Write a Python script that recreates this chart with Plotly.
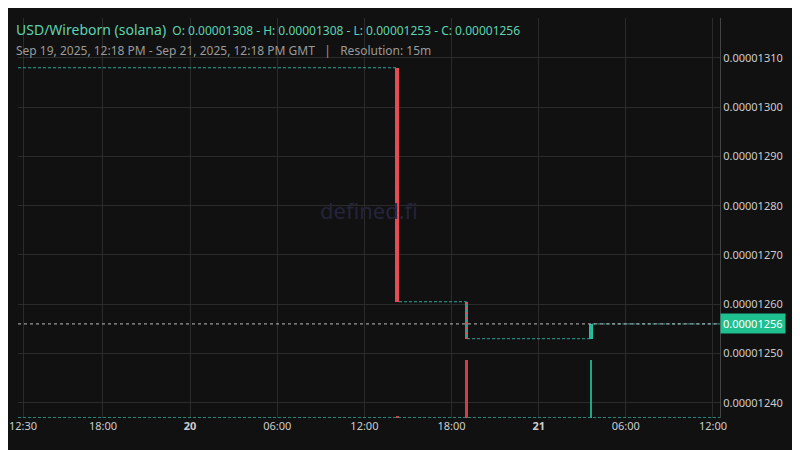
import plotly.graph_objects as go
import pandas as pd

# candles (time, open, close)
candle_t = ["2025-09-20 14:16", "2025-09-20 19:02", "2025-09-21 03:35"]
candle_o = [1.308e-5, 1.2605e-5, 1.253e-5]
candle_c = [1.2605e-5, 1.253e-5, 1.256e-5]
# flat price levels between candles (step start times, level)
flat_t = ["2025-09-19 12:09", "2025-09-20 14:16", "2025-09-20 19:02", "2025-09-21 03:35", "2025-09-21 12:29"]
flat_v = [1.308e-5, 1.2605e-5, 1.253e-5, 1.256e-5, 1.256e-5]
# volume
vol_t = ["2025-09-20 14:16", "2025-09-20 19:02", "2025-09-21 03:35"]
vol_v = [3, 100, 100]
last_price = 1.256e-5
y_ticks = [1.24e-5, 1.25e-5, 1.26e-5, 1.27e-5, 1.28e-5, 1.29e-5, 1.30e-5, 1.31e-5]
x_ticks = ["2025-09-19 12:30", "2025-09-19 18:00", "2025-09-20 00:00", "2025-09-20 06:00", "2025-09-20 12:00",
           "2025-09-20 18:00", "2025-09-21 00:00", "2025-09-21 06:00", "2025-09-21 12:00"]
x_text = ["12:30", "18:00", "<b>20</b>", "06:00", "12:00", "18:00", "<b>21</b>", "06:00", "12:00"]

UP, DN = "#22c39a", "#f0474f"
fig = go.Figure()
fig.add_trace(go.Scatter(x=flat_t, y=flat_v, mode="lines", line=dict(shape="hv", color="#26a69a", width=1, dash="3px,2px"),
                         hoverinfo="skip"))
cols = [UP if c >= o else DN for o, c in zip(candle_o, candle_c)]
fig.add_trace(go.Bar(x=pd.to_datetime(candle_t), base=candle_o, y=[c - o for o, c in zip(candle_o, candle_c)],
                     width=16 * 60 * 1000, marker=dict(color=cols, line=dict(width=0))))
fig.add_trace(go.Bar(x=pd.to_datetime(vol_t), y=vol_v, yaxis="y2", width=10 * 60 * 1000,
                     marker=dict(color=cols, opacity=0.85, line=dict(width=0))))
fig.add_trace(go.Scatter(x=[flat_t[0], flat_t[-1]], y=[0.5, 0.5], yaxis="y2", mode="lines",
                         line=dict(color="#26a69a", width=1, dash="3px,2px")))

fig.add_shape(type="line", xref="paper", x0=0, x1=1, y0=last_price, y1=last_price,
              line=dict(color="#bbbbbb", width=1, dash="dot"))
fig.add_annotation(xref="paper", x=1.0, y=last_price, text="0.00001256", showarrow=False, xanchor="left",
                   bgcolor="#1fbf8f", font=dict(color="#ffffff", size=11, family="Noto Sans"), borderpad=2)
fig.add_annotation(xref="paper", yref="paper", x=0.5, y=0.52, text="defined.fi", showarrow=False,
                   font=dict(color="#24243a", size=22, family="Noto Sans"))
fig.add_annotation(xref="paper", yref="paper", x=0, y=1.0, xshift=-4, yshift=0, xanchor="left", yanchor="top",
                   showarrow=False,
                   text="<span style='font-size:14px'>USD/Wireborn (solana)</span>  O: 0.00001308 - H: 0.00001308 - L: 0.00001253 - C: 0.00001256",
                   font=dict(color="#5fd3b0", size=12, family="Noto Sans"))
fig.add_annotation(xref="paper", yref="paper", x=0, y=1.0, xshift=-4, yshift=-22, xanchor="left", yanchor="top",
                   showarrow=False,
                   text="Sep 19, 2025, 12:18 PM - Sep 21, 2025, 12:18 PM GMT   |   Resolution: 15m",
                   font=dict(color="#9a9a9a", size=12, family="Noto Sans"))

fig.update_layout(
    width=800, height=450, paper_bgcolor="#111111", plot_bgcolor="#111111", showlegend=False,
    margin=dict(l=10, r=88, t=10, b=40), bargap=0,
    font=dict(family="Noto Sans", color="#cccccc", size=11),
    xaxis=dict(type="date", range=["2025-09-19 12:09", "2025-09-21 12:29"], tickvals=x_ticks, ticktext=x_text,
               gridcolor="#2b2b2b", showline=False, zeroline=False, ticks="", automargin=False),
    yaxis=dict(side="right", range=[1.2369e-5, 1.3181e-5], tickvals=y_ticks, tickformat=".8f",
               gridcolor="#2b2b2b", zeroline=False, showline=True, linecolor="#444444", ticks="", automargin=False),
    yaxis2=dict(overlaying="y", range=[0, 690], visible=False),
)
fig.write_html("out.html")
